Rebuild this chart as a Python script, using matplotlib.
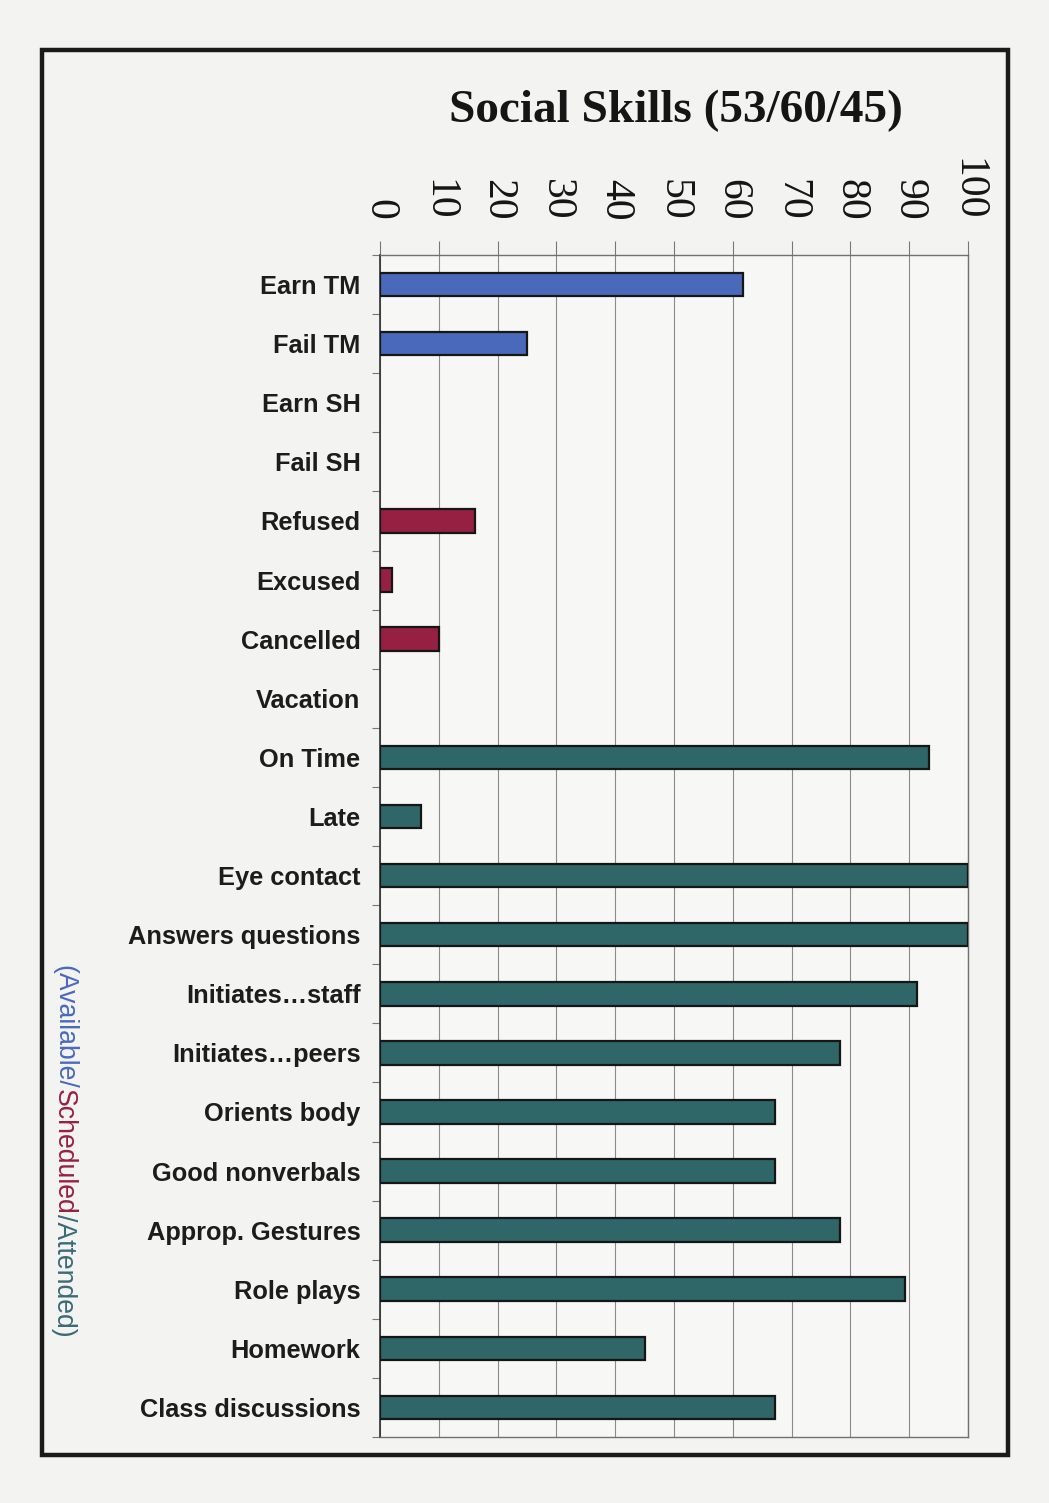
import numpy as np
import matplotlib
matplotlib.use('Agg')
import matplotlib.pyplot as plt
from matplotlib.patches import Rectangle

# data (percent)
available_labels = ['Earn TM', 'Fail TM', 'Earn SH', 'Fail SH']
available_values = [61.7, 25.0, 0, 0]
scheduled_labels = ['Refused', 'Excused', 'Cancelled', 'Vacation']
scheduled_values = [16.2, 2.0, 10.0, 0]
attended_labels = ['On Time', 'Late', 'Eye contact', 'Answers questions',
                   'Initiates\u2026staff', 'Initiates\u2026peers', 'Orients body',
                   'Good nonverbals', 'Approp. Gestures', 'Role plays',
                   'Homework', 'Class discussions']
attended_values = [93.3, 7.0, 100, 100, 91.3, 78.2, 67.2, 67.2, 78.2, 89.3, 45.0, 67.2]
x_ticks = list(range(0, 101, 10))

BLUE = '#4a69bb'
RED = '#962042'
TEAL = '#2f6667'
PAPER = '#f3f3f2'

labels = available_labels + scheduled_labels + attended_labels
values = available_values + scheduled_values + attended_values
colors = ([BLUE] * len(available_labels) + [RED] * len(scheduled_labels)
          + [TEAL] * len(attended_labels))
# empty categories get no outline at all
edge_widths = [1.6 if v > 0 else 0 for v in values]

W, H = 1049, 1503
fig = plt.figure(figsize=(W / 100, H / 100), dpi=100, facecolor=PAPER)

# page frame
fig.patches.append(Rectangle((42 / W, 1 - 1455 / H), (1008 - 42) / W, (1455 - 50) / H,
                             transform=fig.transFigure, fill=False,
                             edgecolor='#1a1a1a', linewidth=3.2, zorder=0))

ax = fig.add_axes([380 / W, 1 - 1437 / H, (968 - 380) / W, (1437 - 255) / H])
ax.set_facecolor('#f7f7f6')

y = np.arange(len(labels))
ax.barh(y, values, height=0.4, color=colors, edgecolor='#161616',
        linewidth=edge_widths, zorder=3)

ax.set_xlim(0, 100)
ax.set_ylim(len(labels) - 0.5, -0.5)

ax.xaxis.tick_top()
ax.set_xticks(x_ticks)
ax.set_xticklabels([str(t) for t in x_ticks], rotation=270,
                   fontfamily='Liberation Serif', fontsize=30, color='#151515')
ax.tick_params(axis='x', which='major', direction='out', length=10, width=0.8,
               color='#777777', pad=15)
ax.grid(axis='x', color='#8a8a8a', linewidth=0.8, zorder=1)

ax.set_yticks(y)
ax.set_yticklabels(labels, fontfamily='Liberation Sans', fontweight='bold',
                   fontsize=18.3, color='#1c1c1c')
ax.set_yticks(np.arange(-0.5, len(labels)), minor=True)
ax.tick_params(axis='y', which='major', length=0, pad=14)
ax.tick_params(axis='y', which='minor', direction='out', length=6, width=0.8,
               color='#777777')

for side in ['top', 'right', 'bottom']:
    ax.spines[side].set_color('#707070')
    ax.spines[side].set_linewidth(1.0)
ax.spines['left'].set_color('#303030')
ax.spines['left'].set_linewidth(1.2)

fig.text(676 / W, 1 - 122 / H, 'Social Skills (53/60/45)', ha='center', va='baseline',
         fontfamily='Liberation Serif', fontweight='bold', fontsize=34, color='#151515')

# vertical multi-coloured note on the left
pieces = [('(Available/', BLUE), ('Scheduled', RED), ('/Attended)', '#3b6a78')]
renderer = fig.canvas.get_renderer()
top_px = H - 965
for txt, col in pieces:
    t = fig.text(64 / W, top_px / H, txt, rotation=270, ha='center', va='top',
                 fontfamily='Liberation Sans', fontsize=19.2, color=col)
    bb = t.get_window_extent(renderer=renderer)
    top_px = bb.y0

fig.savefig('out.png', dpi=100, facecolor=PAPER)
